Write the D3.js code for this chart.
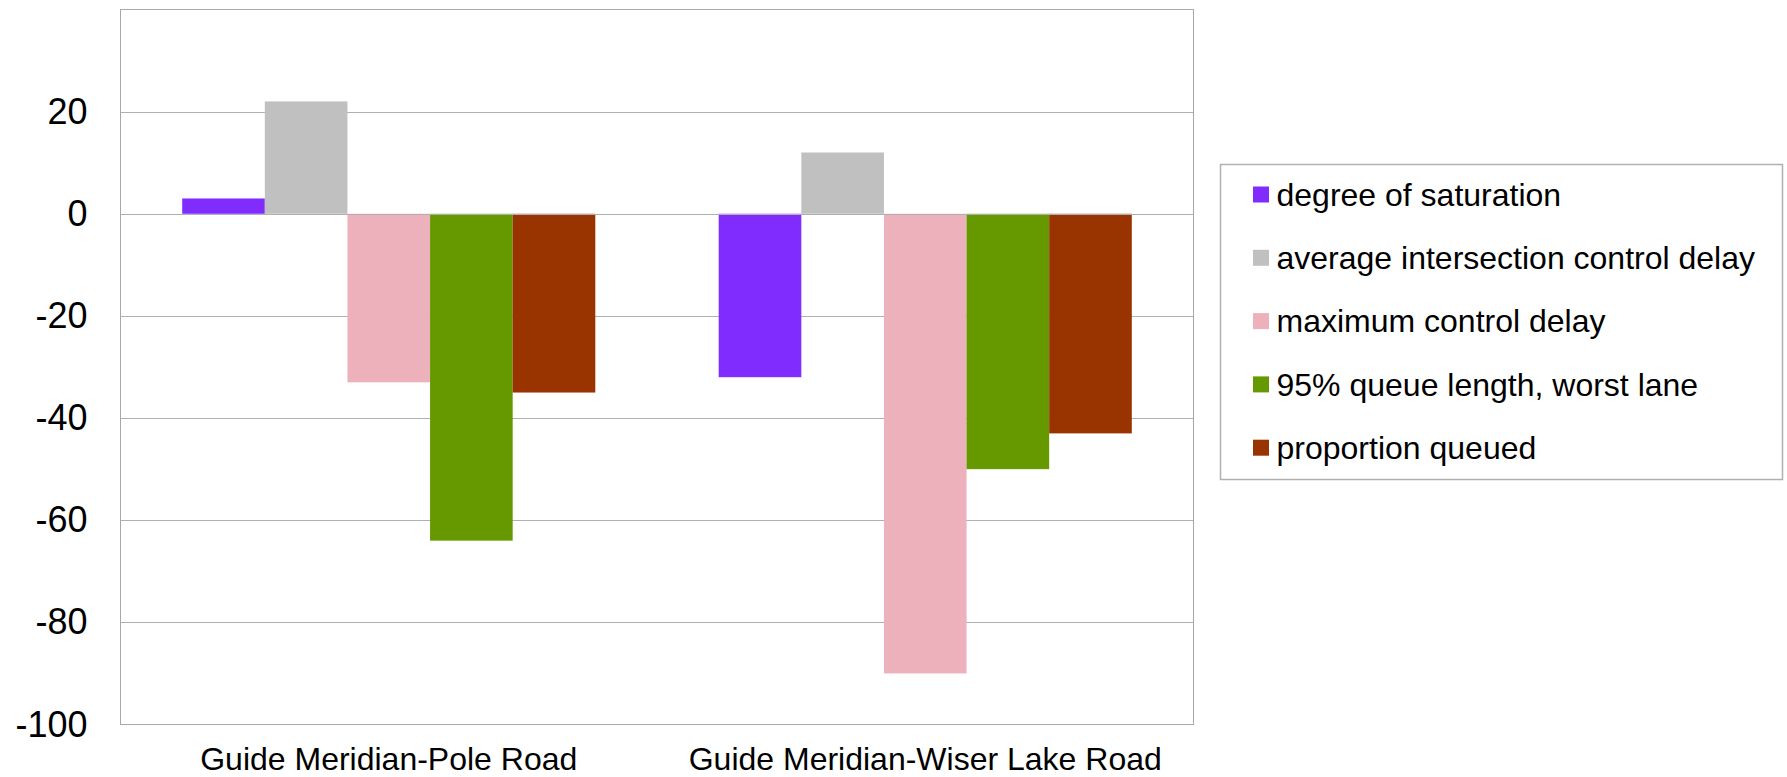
<!DOCTYPE html>
<html>
<head>
<meta charset="utf-8">
<script src="https://cdn.jsdelivr.net/npm/d3@7/dist/d3.min.js"></script>
<style>
  html, body { margin: 0; padding: 0; background: #fff; }
  svg { display: block; font-family: "Liberation Sans", Arial, sans-serif; }
</style>
</head>
<body>
<svg id="chart" width="1787" height="777"></svg>
<script>
// Intersections compared
const categories = ["Guide Meridian-Pole Road", "Guide Meridian-Wiser Lake Road"];

// Measures (series) and their bar colours
const seriesNames = [
  "degree of saturation",
  "average intersection control delay",
  "maximum control delay",
  "95% queue length, worst lane",
  "proportion queued"
];
const seriesColors = ["#802cff", "#c0c0c0", "#edb1bb", "#669900", "#993300"];

// Percentage change per measure, one value per intersection
const degreeOfSaturation = [3, -32];
const avgControlDelay = [22, 12];
const maxControlDelay = [-33, -90];
const queueLength95 = [-64, -50];
const proportionQueued = [-35, -43];
const seriesValues = [degreeOfSaturation, avgControlDelay, maxControlDelay, queueLength95, proportionQueued];

// Value axis
const yDomain = [-100, 40];
const yTicks = [20, 0, -20, -40, -60, -80, -100];
const gridValues = [20, 0, -20, -40, -60, -80];

const svg = d3.select("#chart");
const plot = { left: 120.5, right: 1193.5, top: 9.5, bottom: 724.5 };

const y = d3.scaleLinear().domain(yDomain).range([plot.bottom, plot.top]);
const x0 = d3.scaleBand().domain(categories).range([plot.left, plot.right])
  .paddingInner(0.23).paddingOuter(0.115);
const x1 = d3.scaleBand().domain(seriesNames).range([0, x0.bandwidth()]);

// Horizontal gridlines
svg.append("g").selectAll("line").data(gridValues).join("line")
  .attr("x1", plot.left).attr("x2", plot.right)
  .attr("y1", d => Math.round(y(d)) + 0.5).attr("y2", d => Math.round(y(d)) + 0.5)
  .attr("stroke", "#b0b0b0").attr("stroke-width", 1);

// Bars
const rows = [];
categories.forEach((c, ci) => {
  seriesNames.forEach((s, si) => rows.push({ cat: c, series: s, si, value: seriesValues[si][ci] }));
});
svg.append("g").selectAll("rect").data(rows).join("rect")
  .attr("x", d => x0(d.cat) + x1(d.series))
  .attr("width", x1.bandwidth())
  .attr("y", d => y(Math.max(0, d.value)))
  .attr("height", d => Math.abs(y(d.value) - y(0)))
  .attr("fill", d => seriesColors[d.si]);

// Zero line drawn over the bar bases
svg.append("line")
  .attr("x1", plot.left).attr("x2", plot.right)
  .attr("y1", Math.round(y(0)) + 0.5).attr("y2", Math.round(y(0)) + 0.5)
  .attr("stroke", "#b0b0b0").attr("stroke-width", 1);

// Plot frame
svg.append("rect")
  .attr("x", plot.left).attr("y", plot.top)
  .attr("width", plot.right - plot.left).attr("height", plot.bottom - plot.top)
  .attr("fill", "none").attr("stroke", "#a8a8a8").attr("stroke-width", 1);

// Y axis labels (plain hyphen for negatives)
const yAxis = d3.axisLeft(y).tickValues(yTicks).tickSize(0).tickPadding(33).tickFormat(d => String(d));
const yG = svg.append("g").attr("transform", `translate(${plot.left},0)`).call(yAxis);
yG.select(".domain").remove();
yG.selectAll("text").attr("font-size", 36).attr("fill", "#000")
  .attr("font-family", "'Liberation Sans', Arial, sans-serif");

// Category labels
const xAxis = d3.axisBottom(x0).tickSize(0).tickPadding(0);
const xG = svg.append("g").attr("transform", `translate(0,${plot.bottom})`).call(xAxis);
xG.select(".domain").remove();
xG.selectAll("text").attr("font-size", 32).attr("fill", "#000")
  .attr("dy", null).attr("y", 45.5)
  .attr("font-family", "'Liberation Sans', Arial, sans-serif");

// Legend
const legend = svg.append("g");
legend.append("rect")
  .attr("x", 1220.5).attr("y", 164.5).attr("width", 562).attr("height", 315)
  .attr("fill", "#fff").attr("stroke", "#b0b0b0").attr("stroke-width", 1.5);
const items = legend.selectAll("g.item").data(seriesNames).join("g")
  .attr("class", "item")
  .attr("transform", (d, i) => `translate(1253,${194.5 + i * 63.3})`);
items.append("rect").attr("x", 0).attr("y", -8).attr("width", 16).attr("height", 16)
  .attr("fill", (d, i) => seriesColors[i]);
items.append("text").attr("x", 23.5).attr("y", 0).attr("dy", "0.35em")
  .attr("font-size", 32).attr("fill", "#000").text(d => d);
</script>
</body>
</html>
